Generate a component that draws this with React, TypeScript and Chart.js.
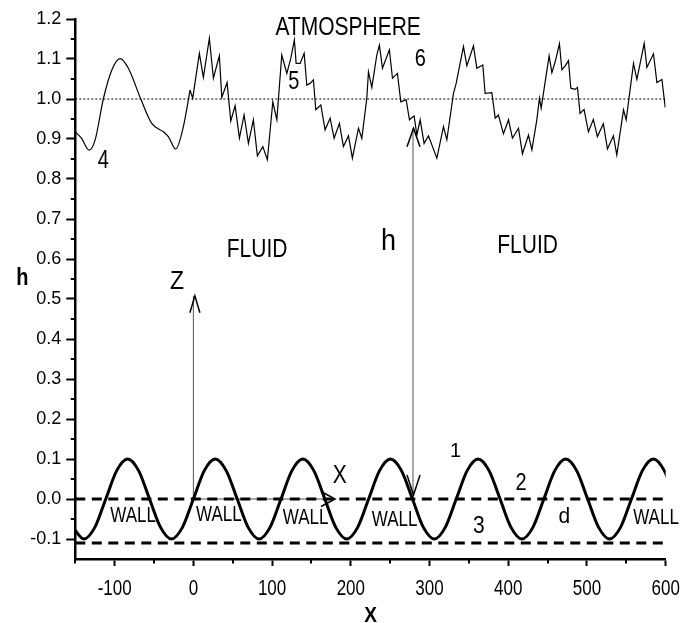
import React, { useEffect, useRef } from 'react';
import { Chart, registerables } from 'chart.js';

Chart.register(...registerables);

const FONT = '"Liberation Sans", Arial, Helvetica, sans-serif';

// ---- axes ----
const xMin = -150;
const xMax = 600;
const yMin = -0.15;
const yMax = 1.2;
const xTicks = [-100, 0, 100, 200, 300, 400, 500, 600];
const xMinorTicks = [-150, -50, 50, 150, 250, 350, 450, 550];
const yTicks = [-0.1, 0, 0.1, 0.2, 0.3, 0.4, 0.5, 0.6, 0.7, 0.8, 0.9, 1.0, 1.1, 1.2];
const yMinorTicks = [-0.05, 0.05, 0.15, 0.25, 0.35, 0.45, 0.55, 0.65, 0.75, 0.85, 0.95, 1.05, 1.15];

// ---- curve 1: wavy wall ----
const wallX = [-153.0, -139.1, -125.2, -111.3, -97.4, -83.5, -69.6, -55.7, -41.7, -27.8, -13.9, 0, 13.9, 27.8, 41.7, 55.7, 69.6, 83.5, 97.4, 111.3, 125.2, 139.1, 153.0, 167.0, 180.9, 194.8, 208.7, 222.6, 236.5, 250.4, 264.3, 278.3, 292.2, 306.1, 320.0, 333.9, 347.8, 361.7, 375.6, 389.6, 403.5, 417.4, 431.3, 445.2, 459.1, 473.0, 486.9, 500.8, 514.8, 528.7, 542.6, 556.5, 570.4, 584.3, 598.2, 612.1];
const wallY = [
  -0.071, -0.1, -0.071, 0, 0.071, 0.1, 0.071, 0,
  -0.071, -0.1, -0.071, 0, 0.071, 0.1, 0.071, 0,
  -0.071, -0.1, -0.071, 0, 0.071, 0.1, 0.071, 0,
  -0.071, -0.1, -0.071, 0, 0.071, 0.1, 0.071, 0,
  -0.071, -0.1, -0.071, 0, 0.071, 0.1, 0.071, 0,
  -0.071, -0.1, -0.071, 0, 0.071, 0.1, 0.071, 0,
  -0.071, -0.1, -0.071, 0, 0.071, 0.1, 0.071, 0,
];

// ---- dashed levels 2 and 3, dotted mean level ----
const levelX = [-150, 600];
const level2Y = [0, 0];
const level3Y = [-0.11, -0.11];
const meanY = [1.0, 1.0];

// ---- free surface (atmosphere) ----
const atmSmoothX = [-150, -142.2, -132.5, -124.9, -114.4, -103.7, -93.1, -82.6, -66.8, -52.9, -38.1, -31.8, -22.4, -12.7, -4.2];
const atmSmoothY = [0.918, 0.902, 0.872, 0.897, 1.0, 1.072, 1.101, 1.077, 1.0, 0.939, 0.918, 0.906, 0.875, 0.931, 1.022];
const atmX = [-4.2, -0.8, 7.6, 12.7, 20.3, 25.4, 33.0, 36.1, 42.8, 47.5, 53.0, 58.5, 64.4, 69.9, 76.2, 81.3, 88.2, 94.0, 100.9, 106.0, 112.3, 118.7, 123.8, 128.3, 130.5, 135.6, 140.7, 144.1, 148.3, 152.5, 155.5, 161.9, 167.3, 173.7, 178.8, 185.5, 190.6, 197.0, 202.0, 209.7, 214.0, 220.3, 222.4, 226.7, 233.0, 236.3, 240.2, 249.0, 252.9, 259.2, 263.5, 270.3, 274.5, 280.4, 283.9, 288.1, 293.1, 298.6, 309.3, 317.7, 322.0, 330.4, 333.8, 338.0, 343.1, 347.4, 355.8, 360.1, 367.7, 370.6, 379.2, 383.4, 387.5, 393.9, 400.3, 405.3, 413.0, 418.0, 425.7, 430.0, 436.3, 439.6, 441.8, 451.9, 455.4, 459.6, 465.0, 468.1, 472.3, 476.5, 479.5, 484.9, 487.9, 491.2, 496.3, 501.8, 508.1, 513.2, 520.8, 526.0, 533.6, 537.9, 546.4, 549.8, 559.1, 563.4, 572.7, 576.1, 584.5, 588.8, 595.2, 599.4];
const atmY = [1.022, 1.002, 1.114, 1.054, 1.152, 1.052, 1.108, 1.004, 1.041, 0.945, 0.983, 0.902, 0.96, 0.889, 0.948, 0.858, 0.881, 0.848, 0.993, 0.948, 1.11, 1.064, 1.102, 1.148, 1.089, 1.089, 1.114, 1.035, 1.039, 1.048, 0.973, 0.985, 0.923, 0.952, 0.902, 0.939, 0.881, 0.908, 0.852, 0.927, 0.902, 1.002, 1.068, 1.029, 1.11, 1.135, 1.077, 1.123, 1.052, 1.064, 0.993, 0.998, 0.948, 0.958, 0.91, 0.948, 0.889, 0.908, 0.852, 0.931, 0.898, 1.014, 1.039, 1.081, 1.131, 1.083, 1.133, 1.077, 1.085, 1.014, 1.016, 0.952, 0.96, 0.913, 0.948, 0.902, 0.927, 0.863, 0.91, 0.873, 0.948, 1.002, 0.977, 1.108, 1.066, 1.093, 1.138, 1.073, 1.083, 1.096, 1.027, 1.024, 1.029, 0.964, 0.974, 0.918, 0.949, 0.906, 0.938, 0.875, 0.908, 0.86, 0.973, 0.948, 1.089, 1.049, 1.139, 1.079, 1.113, 1.041, 1.049, 0.979];

// ---- coordinate arrows (data units) ----
const zArrowX = [0, 0];
const zArrowY = [0, 0.508];
const xArrowX = [0, 180];
const xArrowY = [0, 0];
const hArrowX = [279, 279];
const hArrowY = [0.01, 0.927];

// ---- text annotations: [text, x, y(baseline), font px, vertical stretch] ----
const annotations: [string, number, number, number, number][] = [
  ['ATMOSPHERE', 196.6, 1.16, 21, 1.22],
  ['5', 127.7, 1.024, 20, 1.28],
  ['6', 288.4, 1.083, 20, 1.2],
  ['4', -114.5, 0.827, 20, 1.3],
  ['FLUID', 80.9, 0.606, 21, 1.22],
  ['FLUID', 424.6, 0.614, 21, 1.22],
  ['h', 247.8, 0.6225, 27, 1.1],
  ['Z', -20.7, 0.525, 23, 1.1],
  ['X', 186, 0.039, 21, 1.2],
  ['1', 333.1, 0.106, 20, 1.05],
  ['2', 416.4, 0.0225, 20, 1.17],
  ['3', 362.6, -0.084, 21, 1.18],
  ['d', 471.1, -0.061, 21, 1.05],
  ['WALL', -76.6, -0.057, 17, 1.3],
  ['WALL', 32.4, -0.054, 17, 1.3],
  ['WALL', 142.6, -0.0625, 17, 1.3],
  ['WALL', 255.6, -0.0675, 17, 1.3],
  ['WALL', 587.7, -0.0625, 17, 1.3],
];

const xTitle = 'X';
const yTitle = 'h';

const zip = (xs: number[], ys: number[]) => xs.map((x, i) => ({ x, y: ys[i] }));

function drawText(ctx: CanvasRenderingContext2D, t: string, px: number, py: number, size: number, stretch: number, bold = false) {
  ctx.save();
  ctx.font = `${bold ? 'bold ' : ''}${size}px ${FONT}`;
  ctx.fillStyle = '#000';
  ctx.textAlign = 'center';
  ctx.textBaseline = 'alphabetic';
  ctx.translate(px, py);
  ctx.scale(1, stretch);
  ctx.fillText(t, 0, 0);
  ctx.restore();
}

const overlayPlugin = {
  id: 'overlay',
  afterDraw(chart: any) {
    const ctx: CanvasRenderingContext2D = chart.ctx;
    const xs = chart.scales.x;
    const ys = chart.scales.y;
    const area = chart.chartArea;
    const X = (v: number) => xs.getPixelForValue(v);
    const Y = (v: number) => ys.getPixelForValue(v);

    // minor ticks
    ctx.save();
    ctx.strokeStyle = '#000';
    ctx.lineWidth = 2;
    ctx.beginPath();
    xMinorTicks.forEach((v) => {
      const px = Math.round(X(v)) + 0;
      ctx.moveTo(px, area.bottom);
      ctx.lineTo(px, area.bottom + 4.5);
    });
    yMinorTicks.forEach((v) => {
      const py = Math.round(Y(v));
      ctx.moveTo(area.left, py);
      ctx.lineTo(area.left - 4.5, py);
    });
    ctx.stroke();
    ctx.restore();

    // x tick labels (tall glyphs)
    xTicks.forEach((v) => {
      drawText(ctx, String(v), X(v), area.bottom + 35.5, 17, 1.3);
    });

    // arrow heads
    ctx.save();
    ctx.strokeStyle = '#000';
    ctx.lineWidth = 1.5;
    ctx.lineJoin = 'miter';
    ctx.beginPath();
    // Z arrow (up)
    let ax = X(zArrowX[1]) + 1.5;
    let ay = Y(zArrowY[1]);
    ctx.moveTo(ax - 5, ay + 17);
    ctx.lineTo(ax, ay);
    ctx.lineTo(ax + 5, ay + 17);
    // X arrow (right)
    ax = X(xArrowX[1]);
    ay = Y(xArrowY[1]);
    ctx.moveTo(ax - 14, ay - 7.5);
    ctx.lineTo(ax, ay);
    ctx.lineTo(ax - 14, ay + 7.5);
    // h arrow (up at top)
    ax = X(hArrowX[1]) + 0.5;
    ay = Y(hArrowY[1]);
    ctx.moveTo(ax - 6.5, ay + 18.5);
    ctx.lineTo(ax, ay);
    ctx.lineTo(ax + 6.5, ay + 18.5);
    // h arrow (down at bottom)
    ax = X(hArrowX[0]) + 0.5;
    ay = Y(hArrowY[0]);
    ctx.moveTo(ax - 6.5, ay - 20);
    ctx.lineTo(ax, ay);
    ctx.lineTo(ax + 6.5, ay - 20);
    ctx.stroke();
    ctx.restore();

    // annotations
    annotations.forEach(([t, x, y, size, st]) => {
      drawText(ctx, t, X(x), Y(y), size, st);
    });

    // axis titles
    drawText(ctx, yTitle, area.left - 53, Y(0.535), 20, 1.2, true);
    drawText(ctx, xTitle, (area.left + area.right) / 2, area.bottom + 62.5, 19, 1.2, true);
  },
};

export default function App() {
  const ref = useRef<HTMLCanvasElement>(null);

  useEffect(() => {
    document.body.style.margin = '0';
    const canvas = ref.current!;
    const thin = { pointRadius: 0, pointHoverRadius: 0, fill: false };
    const chart = new Chart(canvas, {
      type: 'line',
      data: {
        datasets: [
          { ...thin, label: 'wall', data: zip(wallX, wallY), borderColor: '#000', borderWidth: 3, cubicInterpolationMode: 'monotone' },
          { ...thin, label: 'level2', data: zip(levelX, level2Y), borderColor: '#000', borderWidth: 3, borderDash: [10, 6.5], tension: 0 },
          { ...thin, label: 'level3', data: zip(levelX, level3Y), borderColor: '#000', borderWidth: 3, borderDash: [10, 6.5], tension: 0 },
          { ...thin, label: 'mean', data: zip(levelX, meanY), borderColor: '#000', borderWidth: 1, borderDash: [2, 2], tension: 0 },
          { ...thin, label: 'atmSmooth', data: zip(atmSmoothX, atmSmoothY), borderColor: '#000', borderWidth: 1.2, cubicInterpolationMode: 'monotone' },
          { ...thin, label: 'atm', data: zip(atmX, atmY), borderColor: '#000', borderWidth: 1.2, tension: 0 },
          { ...thin, label: 'zArrow', data: zip(zArrowX, zArrowY), borderColor: '#555', borderWidth: 1, tension: 0 },
          { ...thin, label: 'xArrow', data: zip(xArrowX, xArrowY), borderColor: '#555', borderWidth: 1, tension: 0 },
          { ...thin, label: 'hArrow', data: zip(hArrowX, hArrowY), borderColor: '#555', borderWidth: 1, tension: 0 },
        ] as any,
      },
      options: {
        animation: false,
        responsive: false,
        devicePixelRatio: 1,
        events: [],
        layout: { padding: { top: 19, right: 25.3, left: 0, bottom: 0 } },
        plugins: { legend: { display: false }, tooltip: { enabled: false }, title: { display: false } },
        scales: {
          x: {
            type: 'linear',
            min: xMin,
            max: xMax,
            afterBuildTicks: (s: any) => { s.ticks = xTicks.map((v) => ({ value: v })); },
            afterFit: (s: any) => { s.height = 64; },
            ticks: { display: false, autoSkip: false },
            grid: { display: true, drawOnChartArea: false, drawTicks: true, tickLength: 7, tickWidth: 2, tickColor: '#000' },
            border: { display: true, color: '#000', width: 2.5 },
          },
          y: {
            type: 'linear',
            min: yMin,
            max: yMax,
            afterBuildTicks: (s: any) => { s.ticks = yTicks.map((v) => ({ value: v })); },
            afterFit: (s: any) => { s.width = 75.3; },
            ticks: {
              autoSkip: false,
              color: '#000',
              padding: 5,
              font: { family: FONT, size: 18 },
              callback: (v: any) => Number(v).toFixed(1),
            },
            grid: { display: true, drawOnChartArea: false, drawTicks: true, tickLength: 9, tickWidth: 2, tickColor: '#000' },
            border: { display: true, color: '#000', width: 2.5 },
          },
        },
      } as any,
      plugins: [overlayPlugin],
    });
    return () => chart.destroy();
  }, []);

  return (
    <div style={{ width: 691, height: 623 }}>
      <canvas ref={ref} width={691} height={623} style={{ display: 'block' }} />
    </div>
  );
}
